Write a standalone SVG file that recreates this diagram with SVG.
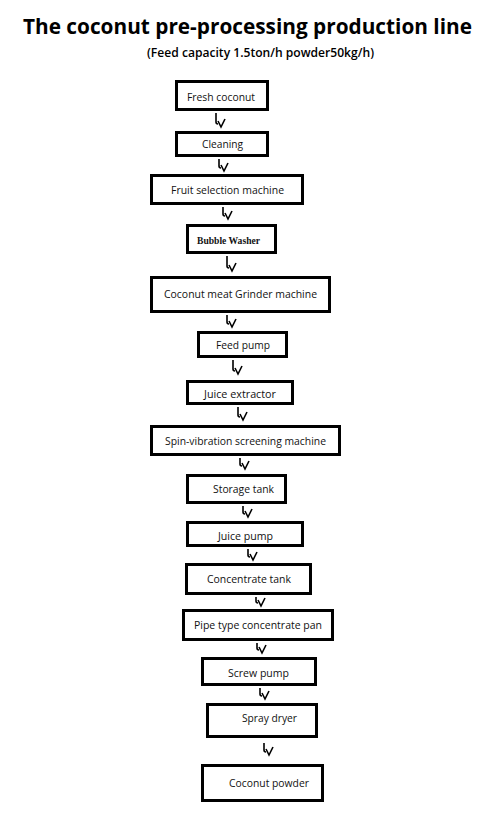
<svg xmlns="http://www.w3.org/2000/svg" width="495" height="821" viewBox="0 0 495 821">
<style>
.box{fill:#fff;stroke:#000;stroke-width:3}
.t{font-family:"Open Sans","Noto Sans",sans-serif;font-size:11px;fill:#111}
.s{font-family:"Liberation Serif",serif;font-size:10px;font-weight:bold;fill:#111}
.c{fill:none;stroke:#000;stroke-width:1.6;stroke-linejoin:miter}
</style>
<rect width="495" height="821" fill="#fff"/>
<text x="23" y="28.3" transform="scale(1,1.2)" font-family="'Open Sans','Noto Sans',sans-serif" font-size="18.5" font-weight="bold" textLength="449" lengthAdjust="spacingAndGlyphs">The coconut pre-processing production line</text>
<text x="147" y="57" font-family="'Open Sans','Noto Sans',sans-serif" font-size="12" font-weight="600" textLength="227" lengthAdjust="spacingAndGlyphs">(Feed capacity 1.5ton/h powder50kg/h)</text>
<g id="connectors">
<path class="c" d="M216 113 V122 Q216 124 218 124 M218 121 L221 127 L225 119"/>
<path class="c" d="M219 159 V166 Q219 168 221 168 M221 165 L224 171 L228 163"/>
<path class="c" d="M223 207 V214 Q223 216 225 216 M225 213 L228 219 L232 211"/>
<path class="c" d="M227 256 V266 Q227 268 229 268 M229 265 L232 271 L236 263"/>
<path class="c" d="M227 315 V322 Q227 324 229 324 M229 321 L232 327 L236 319"/>
<path class="c" d="M233 360 V369 Q233 371 235 371 M235 368 L238 374 L242 366"/>
<path class="c" d="M238 407 V415 Q238 417 240 417 M240 414 L243 420 L247 412"/>
<path class="c" d="M240 458 V464 Q240 466 242 466 M242 463 L245 469 L249 461"/>
<path class="c" d="M243 506 V512 Q243 514 245 514 M245 511 L248 517 L252 509"/>
<path class="c" d="M248 549 V555 Q248 557 250 557 M250 554 L253 560 L257 552"/>
<path class="c" d="M256 597 V601 Q256 603 258 603 M258 600 L261 606 L265 598"/>
<path class="c" d="M257 643 V648 Q257 650 259 650 M259 647 L262 653 L266 645"/>
<path class="c" d="M260 688 V694 Q260 696 262 696 M262 693 L265 699 L269 691"/>
<path class="c" d="M264 743 V750 Q264 752 266 752 M266 749 L269 755 L273 747"/>
</g>
<g id="n1"><rect class="box" x="176.5" y="81.5" width="91" height="28"/><text class="t" x="187" y="101" textLength="68" lengthAdjust="spacingAndGlyphs">Fresh coconut</text></g>
<g id="n2"><rect class="box" x="176.5" y="132.5" width="91" height="23"/><text class="t" x="202" y="148" textLength="41" lengthAdjust="spacingAndGlyphs">Cleaning</text></g>
<g id="n3"><rect class="box" x="151.5" y="175.5" width="151" height="28"/><text class="t" x="171" y="194" textLength="113" lengthAdjust="spacingAndGlyphs">Fruit selection machine</text></g>
<g id="n4"><rect class="box" x="187.5" y="225.5" width="88" height="27"/><text class="s" x="197" y="244" textLength="63" lengthAdjust="spacingAndGlyphs">Bubble Washer</text></g>
<g id="n5"><rect class="box" x="151.5" y="277.5" width="178" height="34"/><text class="t" x="164" y="298" textLength="153" lengthAdjust="spacingAndGlyphs">Coconut meat Grinder machine</text></g>
<g id="n6"><rect class="box" x="198.5" y="332.5" width="88" height="24"/><text class="t" x="216" y="349" textLength="54" lengthAdjust="spacingAndGlyphs">Feed pump</text></g>
<g id="n7"><rect class="box" x="187.5" y="381.5" width="105" height="22"/><text class="t" x="204" y="398" textLength="72" lengthAdjust="spacingAndGlyphs">Juice extractor</text></g>
<g id="n8"><rect class="box" x="151.5" y="426.5" width="188" height="28"/><text class="t" x="165" y="445" textLength="161" lengthAdjust="spacingAndGlyphs">Spin-vibration screening machine</text></g>
<g id="n9"><rect class="box" x="187.5" y="475.5" width="98" height="27"/><text class="t" x="213" y="493" textLength="61" lengthAdjust="spacingAndGlyphs">Storage tank</text></g>
<g id="n10"><rect class="box" x="187.5" y="522.5" width="115" height="23"/><text class="t" x="218" y="540" textLength="55" lengthAdjust="spacingAndGlyphs">Juice pump</text></g>
<g id="n11"><rect class="box" x="186.5" y="564.5" width="124" height="29"/><text class="t" x="207" y="583" textLength="84" lengthAdjust="spacingAndGlyphs">Concentrate tank</text></g>
<g id="n12"><rect class="box" x="183.5" y="610.5" width="149" height="29"/><text class="t" x="194" y="629" textLength="128" lengthAdjust="spacingAndGlyphs">Pipe type concentrate pan</text></g>
<g id="n13"><rect class="box" x="202.5" y="658.5" width="113" height="26"/><text class="t" x="228" y="677" textLength="61" lengthAdjust="spacingAndGlyphs">Screw pump</text></g>
<g id="n14"><rect class="box" x="207.5" y="704.5" width="109" height="32"/><text class="t" x="242" y="722" textLength="55" lengthAdjust="spacingAndGlyphs">Spray dryer</text></g>
<g id="n15"><rect class="box" x="202.5" y="765.5" width="120" height="35"/><text class="t" x="229" y="787" textLength="80" lengthAdjust="spacingAndGlyphs">Coconut powder</text></g>
</svg>
